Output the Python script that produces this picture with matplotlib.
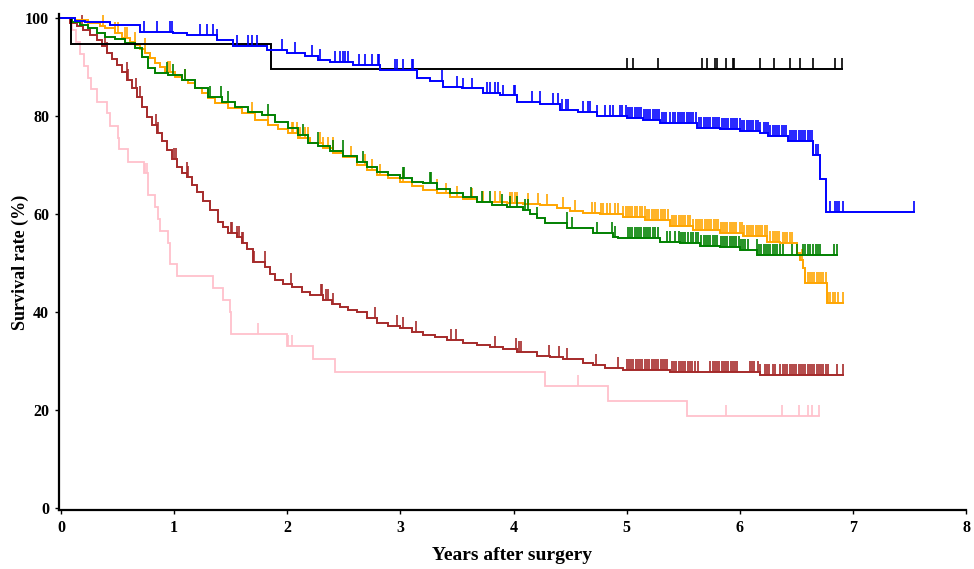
import numpy as np
import matplotlib
matplotlib.use("Agg")
import matplotlib.pyplot as plt

# ---------------- data (years, survival %) ----------------
blue_t = [0.124, 0.212, 0.433, 0.698, 0.990, 1.114, 1.379, 1.521, 1.822, 1.998, 2.157, 2.272,
          2.378, 2.582, 2.821, 3.148, 3.263, 3.378, 3.546, 3.731, 3.882, 4.032, 4.235, 4.412,
          4.571, 4.739, 5.004, 5.146, 5.296, 5.623, 5.827, 6.003, 6.180, 6.251, 6.428, 6.649,
          6.711, 6.764]
blue_s = [99.4, 99.2, 98.6, 97.1, 96.9, 96.5, 95.5, 94.3, 93.5, 92.9, 92.2, 91.4,
          91.0, 90.4, 89.4, 87.8, 87.2, 86.0, 85.6, 84.7, 84.2, 82.9, 82.4, 81.2,
          80.8, 80.0, 79.6, 79.2, 78.6, 77.6, 77.3, 77.0, 76.5, 75.9, 74.9, 72.0,
          67.1, 60.4]
blue_end = 7.54
blue_cens = [0.73, 0.85, 0.96, 0.98, 1.23, 1.29, 1.34, 1.38, 1.56, 1.65, 1.69, 1.73, 1.95, 2.07,
             2.22, 2.29, 2.42, 2.47, 2.49, 2.51, 2.54, 2.63, 2.69, 2.75, 2.80, 2.81, 2.95, 2.97,
             3.02, 3.10, 3.11, 3.37, 3.50, 3.55, 3.63, 3.77, 3.79, 3.84, 3.86, 3.91, 4.00, 4.01,
             4.16, 4.23, 4.35, 4.39, 4.43, 4.46, 4.48, 4.61, 4.66, 4.68, 4.74, 4.81, 4.85, 4.88,
             4.94, 4.96, 4.99,
             5.01, 5.03, 5.05, 5.07, 5.09, 5.11, 5.13, 5.15, 5.17, 5.19, 5.21, 5.23, 5.25, 5.27,
             5.29, 5.31, 5.33, 5.35, 5.38, 5.41, 5.43, 5.45, 5.47, 5.49, 5.51, 5.53, 5.55, 5.57,
             5.59, 5.61, 5.64, 5.66, 5.68, 5.70, 5.72, 5.74, 5.76, 5.78, 5.80, 5.82, 5.84, 5.86,
             5.88, 5.90, 5.92, 5.94, 5.96, 5.98, 6.00, 6.02, 6.04, 6.06, 6.08, 6.10, 6.12, 6.14,
             6.16, 6.18, 6.21, 6.23, 6.25, 6.27, 6.29, 6.31, 6.33, 6.35, 6.37, 6.39, 6.41, 6.44,
             6.46, 6.48, 6.50, 6.52, 6.54, 6.56, 6.58, 6.60, 6.62, 6.64, 6.67, 6.69, 6.80, 6.84,
             6.86, 6.88, 6.91, 7.54]

black_t = [0.085, 1.854]
black_s = [94.7, 89.6]
black_end = 6.90
black_cens = [5.00, 5.06, 5.28, 5.67, 5.71, 5.78, 5.80, 5.88, 5.94, 5.95, 6.18, 6.30, 6.44,
              6.53, 6.65, 6.84, 6.90]

orange_t = [0.124, 0.239, 0.345, 0.389, 0.477, 0.539, 0.610, 0.654, 0.698, 0.743, 0.787, 0.831,
            0.875, 0.920, 1.008, 1.070, 1.123, 1.185, 1.247, 1.300, 1.362, 1.477, 1.600, 1.715,
            1.830, 1.919, 2.007, 2.095, 2.202, 2.317, 2.405, 2.493, 2.617, 2.706, 2.794, 2.891,
            2.997, 3.103, 3.201, 3.325, 3.439, 3.554, 3.678, 3.943, 4.085, 4.235, 4.386, 4.500,
            4.615, 4.766, 4.969, 5.164, 5.385, 5.588, 5.827, 6.030, 6.242, 6.357, 6.507, 6.534,
            6.561, 6.578, 6.773]
orange_s = [99.5, 99.0, 98.4, 98.0, 96.9, 95.9, 95.0, 94.5, 93.7, 92.9, 91.8, 90.8,
            89.9, 89.0, 88.0, 87.3, 86.7, 85.7, 84.7, 83.7, 82.7, 81.6, 80.6, 79.2,
            78.2, 77.3, 76.5, 75.5, 74.5, 73.5, 72.5, 71.6, 70.0, 69.0, 68.0, 67.3,
            66.5, 65.7, 64.9, 64.2, 63.5, 63.0, 62.4, 62.2, 62.0, 61.8, 61.2, 60.7,
            60.2, 60.0, 59.4, 58.8, 57.6, 56.7, 56.1, 55.5, 54.3, 54.1, 52.0, 50.6,
            49.0, 45.9, 41.8]
orange_end = 6.91
orange_cens = [0.37, 0.48, 0.50, 0.57, 0.58, 0.65, 0.74, 0.95, 0.96, 1.10, 1.69, 1.83, 2.04,
               2.05, 2.09, 2.11, 2.16, 2.18, 2.29, 2.32, 2.36, 2.40, 2.56, 2.69, 2.75, 2.82,
               3.02, 3.32, 3.40, 3.50, 3.63, 3.73, 3.84, 3.88, 3.97, 3.99, 4.01, 4.03, 4.13,
               4.22, 4.30, 4.44, 4.54, 4.69, 4.72, 4.77, 4.79, 4.83, 4.85, 4.90, 4.92,
               4.97, 4.99, 5.01, 5.03, 5.05, 5.07, 5.09, 5.12, 5.14, 5.16, 5.18, 5.20, 5.22,
               5.24, 5.26, 5.28, 5.30, 5.32, 5.34, 5.37, 5.40, 5.42, 5.44, 5.46, 5.48, 5.50,
               5.52, 5.54, 5.56, 5.59, 5.61, 5.63, 5.65, 5.67, 5.69, 5.71, 5.73, 5.75, 5.77,
               5.79, 5.81, 5.83, 5.85, 5.87, 5.89, 5.91, 5.93, 5.95, 5.97, 6.00, 6.02, 6.04,
               6.06, 6.08, 6.10, 6.12, 6.14, 6.16, 6.18, 6.20, 6.22, 6.24, 6.27, 6.29, 6.31,
               6.33, 6.35, 6.38, 6.40, 6.42, 6.44, 6.46, 6.55, 6.58, 6.60, 6.62, 6.64, 6.66,
               6.68, 6.70, 6.72, 6.74, 6.76, 6.78, 6.80, 6.82, 6.84, 6.87, 6.91]

green_t = [0.097, 0.168, 0.239, 0.318, 0.389, 0.477, 0.566, 0.654, 0.716, 0.769, 0.831, 0.946,
           1.070, 1.185, 1.300, 1.424, 1.538, 1.653, 1.777, 1.892, 2.007, 2.095, 2.184, 2.272,
           2.378, 2.493, 2.617, 2.706, 2.794, 2.891, 2.997, 3.103, 3.201, 3.325, 3.439, 3.554,
           3.678, 3.811, 3.943, 4.085, 4.147, 4.209, 4.279, 4.474, 4.704, 4.881, 4.925, 5.296,
           5.473, 5.650, 5.827, 6.003, 6.154]
green_s = [99.2, 98.6, 98.0, 97.0, 96.1, 95.7, 94.9, 93.9, 92.0, 89.8, 88.8, 88.4,
           87.3, 85.7, 83.9, 82.9, 81.8, 80.8, 80.2, 78.8, 77.6, 76.2, 74.5, 73.9,
           72.9, 71.8, 70.6, 69.6, 68.6, 68.0, 67.3, 66.6, 66.3, 65.0, 64.3, 63.4,
           62.4, 61.9, 61.4, 60.8, 60.0, 59.2, 58.2, 57.1, 56.1, 55.3, 55.1, 54.3,
           54.1, 53.5, 53.3, 52.6, 51.6]
green_end = 6.86
green_cens = [0.94, 0.99, 1.10, 1.32, 1.41, 1.48, 1.83, 2.14, 2.27, 2.40, 2.49, 2.67, 3.02,
              3.03, 3.26, 3.27, 3.62, 3.72, 3.79, 3.90, 3.97, 4.03, 4.10, 4.13, 4.21, 4.47,
              4.52, 4.74, 4.87, 4.90,
              5.01, 5.03, 5.05, 5.07, 5.09, 5.11, 5.13, 5.15, 5.17, 5.19, 5.21, 5.23, 5.25,
              5.28, 5.36, 5.38, 5.43, 5.46, 5.48, 5.50, 5.52, 5.54, 5.57, 5.59, 5.61, 5.63,
              5.66, 5.68, 5.70, 5.72, 5.74, 5.76, 5.78, 5.80, 5.83, 5.85, 5.87, 5.89, 5.91,
              5.93, 5.95, 5.97, 5.99, 6.01, 6.03, 6.05, 6.07, 6.15, 6.17, 6.19, 6.21, 6.23,
              6.25, 6.27, 6.29, 6.31, 6.33, 6.36, 6.38, 6.46, 6.51, 6.56, 6.58, 6.60, 6.62,
              6.65, 6.67, 6.69, 6.71, 6.83, 6.86]

brown_t = [0.080, 0.141, 0.195, 0.256, 0.318, 0.363, 0.407, 0.451, 0.495, 0.539, 0.584, 0.628,
           0.672, 0.716, 0.760, 0.805, 0.849, 0.893, 0.937, 0.981, 1.026, 1.070, 1.114, 1.158,
           1.202, 1.256, 1.317, 1.388, 1.432, 1.477, 1.556, 1.600, 1.645, 1.698, 1.804, 1.848,
           1.892, 1.963, 2.042, 2.131, 2.202, 2.317, 2.396, 2.467, 2.538, 2.617, 2.706, 2.794,
           2.891, 2.997, 3.103, 3.201, 3.307, 3.413, 3.554, 3.678, 3.793, 3.908, 4.032, 4.209,
           4.324, 4.439, 4.615, 4.704, 4.810, 4.969, 5.385, 6.180]
brown_s = [99.0, 98.3, 97.6, 96.6, 95.5, 94.3, 92.9, 91.6, 90.4, 88.9, 87.3, 85.6,
           83.9, 81.8, 79.8, 78.1, 76.5, 74.8, 73.1, 71.3, 69.6, 68.4, 67.6, 66.0,
           64.5, 62.7, 60.8, 58.4, 57.3, 56.1, 55.3, 54.1, 52.8, 50.2, 49.2, 47.8,
           46.5, 45.7, 45.1, 44.1, 43.5, 42.4, 41.7, 41.0, 40.5, 40.0, 38.8, 37.8,
           37.2, 36.7, 36.0, 35.3, 34.8, 34.3, 33.7, 33.3, 32.9, 32.4, 31.8, 31.0,
           30.8, 30.4, 29.6, 29.2, 28.6, 28.2, 27.7, 27.1]
brown_end = 6.91
brown_cens = [0.19, 0.39, 0.41, 0.58, 0.59, 0.66, 0.70, 0.84, 0.86, 1.00, 1.02, 1.11, 1.12,
              1.50, 1.51, 1.56, 1.57, 1.60, 1.61, 1.71, 1.80, 2.03, 2.30, 2.31, 2.34, 2.36,
              2.40, 2.78, 2.97, 3.02, 3.14, 3.45, 3.49, 3.84, 4.02, 4.05, 4.07, 4.31, 4.40,
              4.47, 4.73, 4.92,
              5.00, 5.02, 5.04, 5.06, 5.08, 5.10, 5.12, 5.14, 5.16, 5.18, 5.20, 5.22, 5.24,
              5.26, 5.28, 5.30, 5.32, 5.34, 5.36, 5.40, 5.42, 5.44, 5.46, 5.48, 5.50, 5.52,
              5.54, 5.56, 5.58, 5.60, 5.63, 5.74, 5.76, 5.78, 5.80, 5.82, 5.84, 5.86, 5.88,
              5.90, 5.92, 5.94, 5.96, 5.98, 6.09, 6.11, 6.13, 6.16, 6.18, 6.22, 6.24, 6.26,
              6.29, 6.31, 6.36, 6.38, 6.40, 6.42, 6.44, 6.46, 6.48, 6.50, 6.52, 6.54, 6.56,
              6.58, 6.60, 6.62, 6.64, 6.66, 6.68, 6.70, 6.72, 6.74, 6.76, 6.78, 6.86, 6.91]

pink_t = [0.097, 0.133, 0.168, 0.203, 0.239, 0.265, 0.318, 0.407, 0.433, 0.504, 0.513, 0.592,
          0.734, 0.769, 0.831, 0.858, 0.875, 0.946, 0.964, 1.026, 1.344, 1.432, 1.494, 1.503,
          1.998, 2.228, 2.423, 4.279, 4.836, 5.535]
pink_s = [97.6, 95.1, 92.7, 90.2, 87.8, 85.4, 82.9, 80.5, 78.0, 75.6, 73.2, 70.7,
          68.3, 63.9, 61.4, 59.0, 56.6, 54.1, 49.8, 47.3, 44.9, 42.5, 40.0, 35.6,
          33.1, 30.5, 27.8, 24.9, 21.8, 18.8]
pink_end = 6.70
pink_cens = [0.74, 0.76, 1.74, 2.01, 2.04, 4.57, 5.88, 6.37, 6.52, 6.60, 6.64, 6.70]

x_ticks = [0, 1, 2, 3, 4, 5, 6, 7, 8]
y_ticks = [0, 20, 40, 60, 80, 100]
x_label = "Years after surgery"
y_label = "Survival rate (%)"

# ---------------- drawing ----------------
FONT = ["Liberation Serif", "DejaVu Serif"]
plt.rcParams["font.family"] = FONT
TICK_H = 2.2

fig = plt.figure(figsize=(9.74, 5.69), dpi=100)
ax = fig.add_axes([0.0603, 0.1037, 0.9315, 0.8717])


def km(t_ev, s_ev, t_end, cens, color, lw=1.4):
    t_ev = np.asarray(t_ev, float)
    s_ev = np.asarray(s_ev, float)
    t = np.concatenate([[0.0], t_ev, [t_end]])
    s = np.concatenate([[100.0], s_ev, [s_ev[-1]]])
    ax.step(t, s, where="post", color=color, lw=lw, solid_joinstyle="miter")
    c = np.asarray(cens, float)
    idx = np.searchsorted(t_ev, c, side="right")
    base = np.concatenate([[100.0], s_ev])[idx]
    ax.vlines(c, base, base + TICK_H, color=color, lw=1.2)


km(pink_t, pink_s, pink_end, pink_cens, "#FFC0CB", 1.3)
km(brown_t, brown_s, brown_end, brown_cens, "#A52A2A", 1.4)
km(orange_t, orange_s, orange_end, orange_cens, "#FFA500", 1.4)
km(green_t, green_s, green_end, green_cens, "#008000", 1.4)
km(black_t, black_s, black_end, black_cens, "black", 1.4)
km(blue_t, blue_s, blue_end, blue_cens, "#0000FF", 1.4)

ax.set_xlim(-0.02, 8.0)
ax.set_ylim(-0.4, 100.8)
ax.set_xticks(x_ticks)
ax.set_yticks(y_ticks)
for sp in ("top", "right"):
    ax.spines[sp].set_visible(False)
for sp in ("left", "bottom"):
    ax.spines[sp].set_linewidth(1.6)
ax.tick_params(direction="out", length=3, width=1, labelsize=11.5, pad=4)
for lab in ax.get_xticklabels() + ax.get_yticklabels():
    lab.set_fontweight("bold")

ax.set_xlabel(x_label, fontsize=14, fontweight="bold")
ax.set_ylabel(y_label, fontsize=13, fontweight="bold")
ax.xaxis.set_label_coords(0.5, -0.075)
ax.yaxis.set_label_coords(-0.033, 0.5)

fig.savefig("out.png", dpi=100)
